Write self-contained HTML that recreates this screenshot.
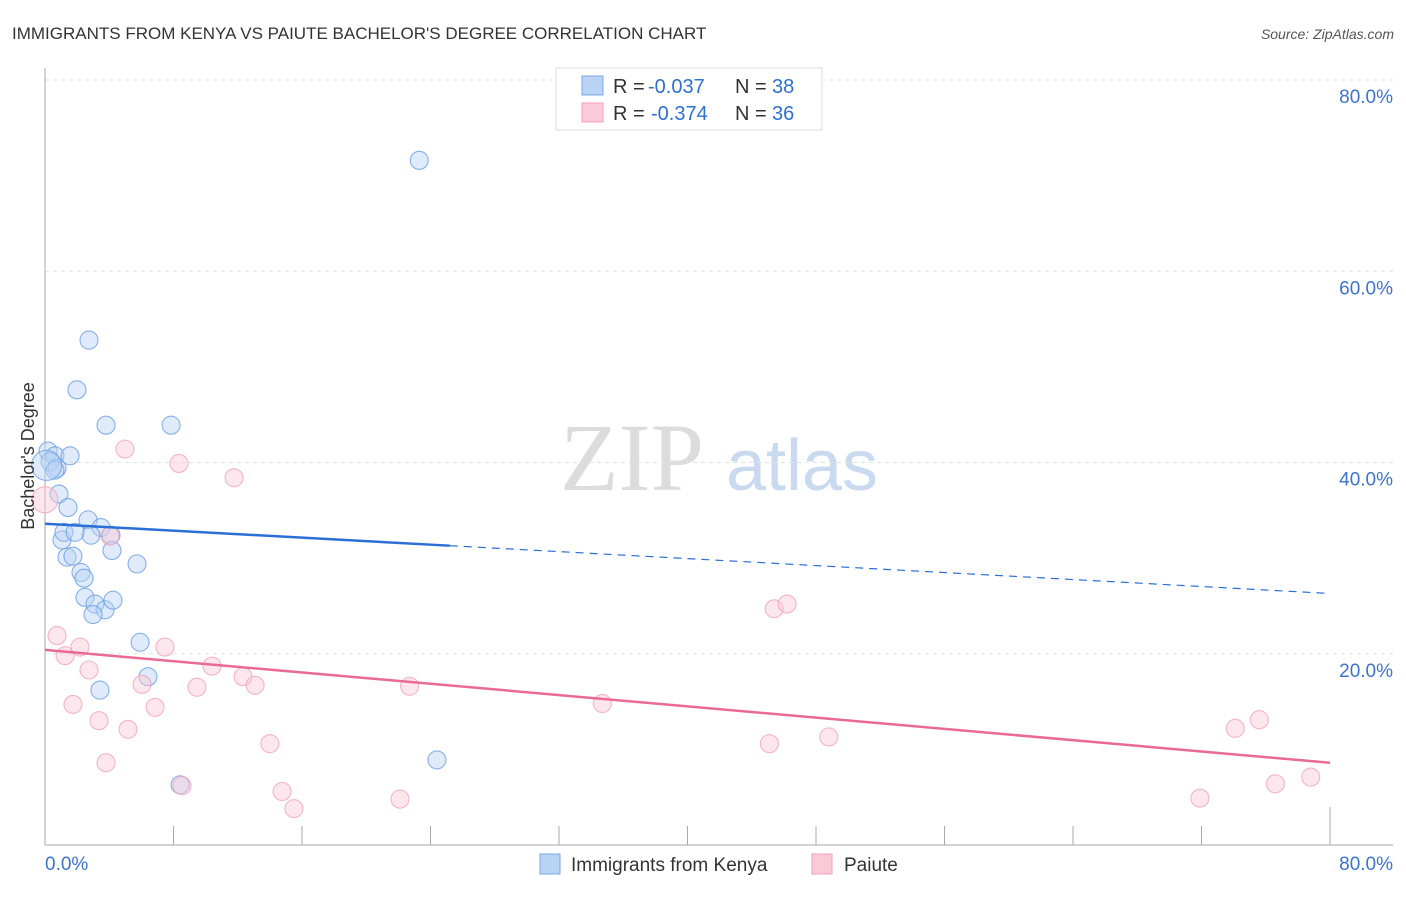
<!DOCTYPE html>
<html><head><meta charset="utf-8"><style>
body{margin:0;background:#fff;font-family:"Liberation Sans",sans-serif;}
</style></head><body>
<svg id="chart" width="1406" height="892" viewBox="0 0 1406 892" xmlns="http://www.w3.org/2000/svg">
<text x="12" y="39" font-size="17" fill="#333">IMMIGRANTS FROM KENYA VS PAIUTE BACHELOR'S DEGREE CORRELATION CHART</text>
<text x="1394" y="39" font-size="14" fill="#555" font-style="italic" text-anchor="end">Source: ZipAtlas.com</text>
<g>
<text x="632" y="490" font-size="96" fill="#dcdcdc" font-family="Liberation Serif,serif" text-anchor="middle">ZIP</text>
<text x="802" y="490" font-size="72" fill="#c9d9f0" text-anchor="middle">atlas</text>
</g>
<g id="grid"></g>
<g id="axes"></g>
<g id="marks"></g>
<text transform="translate(34,456) rotate(-90)" font-size="18" fill="#333" text-anchor="middle">Bachelor's Degree</text>
<g>
<rect x="556" y="68" width="266" height="62" fill="#fff" stroke="#ddd"/>
<rect x="582" y="76" width="21" height="19" fill="#b9d3f5" stroke="#7aa7e6"/>
<rect x="582" y="103" width="21" height="19" fill="#fbcad8" stroke="#f0a0b8"/>
<text x="613" y="93" font-size="20" fill="#333">R =</text>
<text x="648" y="93" font-size="20" fill="#2f6fd0">-0.037</text>
<text x="735" y="93" font-size="20" fill="#333">N =</text>
<text x="772" y="93" font-size="20" fill="#2f6fd0">38</text>
<text x="613" y="120" font-size="20" fill="#333">R =</text>
<text x="651" y="120" font-size="20" fill="#2f6fd0">-0.374</text>
<text x="735" y="120" font-size="20" fill="#333">N =</text>
<text x="772" y="120" font-size="20" fill="#2f6fd0">36</text>
</g>
<g>
<rect x="540" y="854" width="20" height="20" fill="#b9d3f5" stroke="#7aa7e6"/>
<text x="571" y="871" font-size="19" fill="#333">Immigrants from Kenya</text>
<rect x="812" y="854" width="20" height="20" fill="#fbcad8" stroke="#f0a0b8"/>
<text x="844" y="871" font-size="19" fill="#333">Paiute</text>
</g>
</svg>
<script>
const yTicks=[20,40,60,80];
const yTickLabels=["20.0%","40.0%","60.0%","80.0%"];
const xTicks=[0,10,20,30,40,50,60,70,80,90,100];
const kenyaX=[23.3,2.74,1.99,3.8,7.85,0.19,0.62,1.56,0.31,0.75,0.87,1.43,1.06,1.18,2.68,3.49,2.86,1.87,1.37,1.74,4.11,4.17,2.24,2.43,5.73,2.49,3.11,3.74,4.23,2.99,5.92,6.41,3.42,24.4,8.41,0.62,0.1];
const kenyaY=[71.6,52.8,47.6,43.9,43.9,41.2,40.7,40.7,40.1,39.4,36.7,35.3,31.9,32.7,34.0,33.2,32.4,32.7,30.1,30.2,32.4,30.8,28.5,27.9,29.4,25.9,25.2,24.6,25.6,24.1,21.2,17.6,16.2,8.9,6.3,39.2,39.7];
const kenyaR=[9,9,9,9,9,9,9,9,9,9,9,9,9,9,9,9,9,9,9,9,9,9,9,9,9,9,9,9,9,9,9,9,9,9,9,9,15];
const paiuteX=[4.98,8.34,11.77,4.05,0.75,1.25,2.18,7.47,2.74,10.4,12.33,13.08,6.04,9.46,1.74,6.85,3.36,5.17,3.8,14.0,14.76,15.5,8.53,22.7,22.1,34.7,45.4,46.2,45.1,48.8,74.1,75.6,71.9,76.6,78.8,0];
const paiuteY=[41.4,39.9,38.4,32.3,21.9,19.8,20.7,20.7,18.3,18.7,17.6,16.7,16.8,16.5,14.7,14.4,13.0,12.1,8.6,10.6,5.6,3.8,6.2,16.6,4.8,14.8,24.7,25.2,10.6,11.3,12.2,13.1,4.9,6.4,7.1,36.1];
const paiuteR=[9,9,9,9,9,9,9,9,9,9,9,9,9,9,9,9,9,9,9,9,9,9,9,9,9,9,9,9,9,9,9,9,9,9,9,13];
const kenyaTrend=[33.6,26.3];
const paiuteTrend=[20.4,8.6];
const kenyaSolidEnd=25.2;

const NS="http://www.w3.org/2000/svg";
const X=v=>45+v*16.0625;
const Y=v=>845-v*9.5625;
function mk(tag,attrs,parent){const e=document.createElementNS(NS,tag);for(const k in attrs)e.setAttribute(k,attrs[k]);parent.appendChild(e);return e;}
const grid=document.getElementById('grid'),axes=document.getElementById('axes'),marks=document.getElementById('marks');
yTicks.forEach((t,i)=>{
 const l=mk('line',{x1:45,x2:1393,y1:Y(t),y2:Y(t),stroke:'#e2e2e2','stroke-dasharray':'4,4'},grid);
 
 
 const tx=mk('text',{x:1393,y:Y(t)+23,'font-size':19,fill:'#3d74c9','text-anchor':'end'},axes);
 tx.textContent=yTickLabels[i];
 
 
});
const ya=mk('line',{x1:45,x2:45,y1:68,y2:845,stroke:'#aaa'},axes);


const xa=mk('line',{x1:45,x2:1393,y1:845,y2:845,stroke:'#aaa'},axes);


xTicks.forEach(t=>{
 const v=t*0.8;
 const tk=mk('line',{x1:X(v),x2:X(v),y1:t===100?807:826,y2:845,stroke:'#aaa'},axes);
 
 
});
const xl0=mk('text',{x:45,y:870,'font-size':19,fill:'#3d74c9'},axes);xl0.textContent='0.0%';


const xl1=mk('text',{x:1393,y:870,'font-size':19,fill:'#3d74c9','text-anchor':'end'},axes);xl1.textContent='80.0%';


function dots(xs,ys,rs,fill,stroke,name){xs.forEach((x,i)=>{
 const c=mk('circle',{cx:X(x),cy:Y(ys[i]),r:rs[i],fill:fill,'fill-opacity':0.45,stroke:stroke,'stroke-opacity':0.8,'stroke-width':1.1},marks);
 
 
});}
dots(kenyaX,kenyaY,kenyaR,'#b9d3f5','#6a9de3','kenya-point');
dots(paiuteX,paiuteY,paiuteR,'#fbcad8','#f0a3bb','paiute-point');
const kAt=v=>kenyaTrend[0]+(kenyaTrend[1]-kenyaTrend[0])*v/80;
const k1=mk('line',{x1:X(0),y1:Y(kAt(0)),x2:X(kenyaSolidEnd),y2:Y(kAt(kenyaSolidEnd)),stroke:'#2b6fd6','stroke-width':2.5},marks);


const k2=mk('line',{x1:X(kenyaSolidEnd),y1:Y(kAt(kenyaSolidEnd)),x2:X(80),y2:Y(kAt(80)),stroke:'#2b6fd6','stroke-width':1.2,'stroke-dasharray':'8,6'},marks);


const p1=mk('line',{x1:X(0),y1:Y(paiuteTrend[0]),x2:X(80),y2:Y(paiuteTrend[1]),stroke:'#e96a95','stroke-width':2.5},marks);


</script>
</body></html>
